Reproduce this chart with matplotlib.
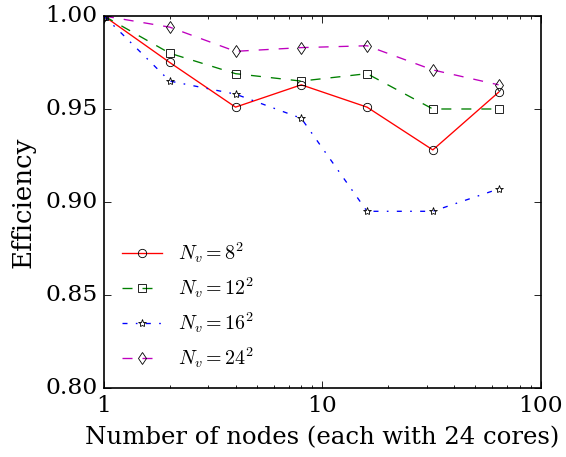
import matplotlib
matplotlib.use("Agg")
import matplotlib.pyplot as plt

plt.style.use('classic')
plt.rcParams['font.family'] = 'serif'
plt.rcParams['font.serif'] = ['DejaVu Serif']
plt.rcParams['mathtext.fontset'] = 'cm'
plt.rcParams['font.size'] = 14

nodes = [1, 2, 4, 8, 16, 32, 64]
eff_8 = [1.000, 0.975, 0.951, 0.963, 0.951, 0.928, 0.959]
eff_12 = [1.000, 0.980, 0.969, 0.965, 0.969, 0.950, 0.950]
eff_16 = [1.000, 0.965, 0.958, 0.945, 0.895, 0.895, 0.907]
eff_24 = [1.000, 0.994, 0.981, 0.983, 0.984, 0.971, 0.963]
labels = [r'$N_v=8^2$', r'$N_v=12^2$', r'$N_v=16^2$', r'$N_v=24^2$']

DPI = 120
fig = plt.figure(figsize=(566 / DPI, 457 / DPI), dpi=DPI, facecolor='white')
ax = fig.add_axes([0.1837, 0.151, 0.772, 0.814])

series = [eff_8, eff_12, eff_16, eff_24]
styles = [('r', '-', 'o'), ('g', '--', 's'), ('b', '-.', '*'), ('m', '--', 'd')]
for vals, lab, (c, ls, mk) in zip(series, labels, styles):
    ax.plot(nodes, vals, color=c, linestyle=ls, marker=mk, mfc='none', mec='k',
            markersize=5, linewidth=0.8, label=lab)

ax.set_xscale('log')
ax.set_xlim(1, 100)
ax.set_ylim(0.80, 1.00)
ax.set_yticks([0.80, 0.85, 0.90, 0.95, 1.00])
ax.set_xticks([1, 10, 100])
ax.set_xticklabels(['1', '10', '100'])
ax.tick_params(labelsize=14)
ax.set_xlabel('Number of nodes (each with 24 cores)', fontsize=14.6, labelpad=6)
ax.set_ylabel('Efficiency', fontsize=15.6, labelpad=6)
ax.legend(loc='lower left', frameon=False, numpoints=1, fontsize=12,
          labelspacing=0.5, bbox_to_anchor=(0.0, 0.0))

fig.savefig('out.png', dpi=DPI, facecolor='white')
